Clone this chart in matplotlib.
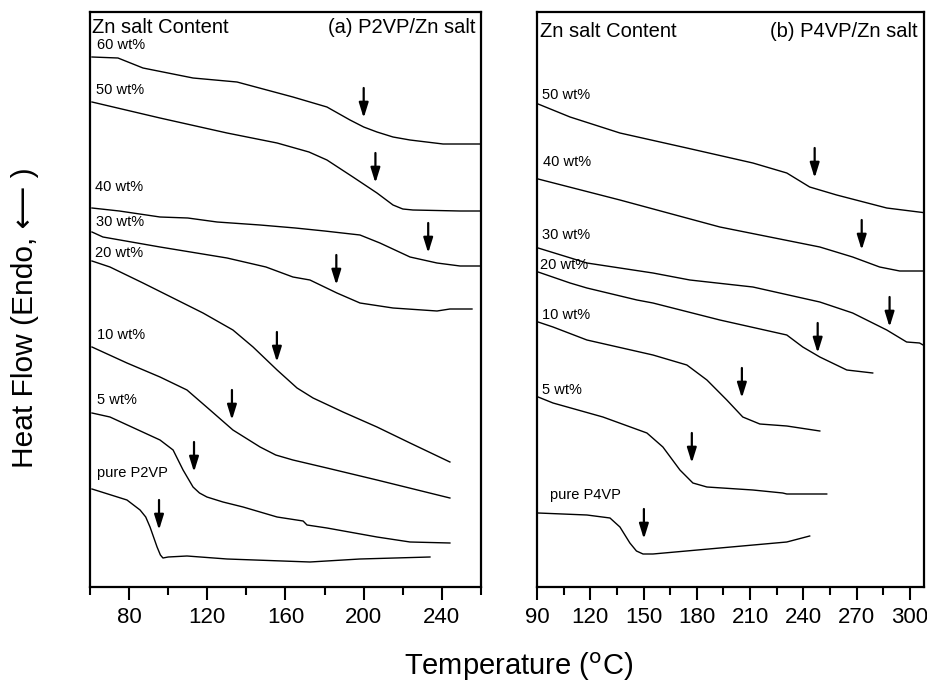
import matplotlib
matplotlib.use("Agg")
import matplotlib.pyplot as plt

plt.rcParams['font.family'] = ['Liberation Sans', 'DejaVu Sans']

# ---- (a) P2VP / Zn salt : temperature (C), heat flow (a.u., stacked) ----
p2_labels = ["60 wt%", "50 wt%", "40 wt%", "30 wt%", "20 wt%", "10 wt%", "5 wt%", "pure P2VP"]
p2_T = [
    [61.0, 74.3, 87.1, 112.7, 135.2, 163.8, 181.2, 193.0, 200.0, 206.8, 215.0, 223.7, 240.6, 260.0],
    [61.0, 95.8, 130.1, 155.7, 172.0, 181.2, 194.5, 206.8, 215.0, 220.0, 225.2, 249.3, 260.0],
    [61.0, 75.0, 95.8, 110.0, 125.0, 147.0, 165.0, 180.0, 198.1, 208.3, 223.7, 237.5, 249.3, 260.0],
    [61.0, 66.6, 95.8, 130.1, 150.0, 163.8, 172.5, 186.3, 198.1, 215.0, 237.5, 244.1, 255.4],
    [61.0, 70.2, 87.1, 104.5, 117.8, 133.1, 143.4, 155.7, 165.9, 174.1, 189.4, 206.8, 223.7, 244.1],
    [61.0, 78.9, 95.8, 109.6, 121.4, 133.1, 147.0, 155.0, 163.8, 181.2, 206.8, 244.1],
    [61.0, 70.2, 95.8, 102.5, 107.6, 112.7, 116.0, 119.8, 128.0, 138.3, 155.7, 169.0, 171.0, 181.2,
     206.8, 223.7, 244.1],
    [61.0, 78.9, 85.6, 88.5, 90.7, 94.3, 96.0, 97.3, 100.0, 109.6, 130.1, 172.5, 198.1, 233.9],
]
p2_H = [
    [53.0, 52.9, 51.9, 50.9, 50.5, 49.0, 48.0, 46.7, 46.0, 45.5, 45.0, 44.7, 44.3, 44.3],
    [48.5, 46.9, 45.4, 44.4, 43.5, 42.7, 41.0, 39.4, 38.2, 37.8, 37.7, 37.6, 37.6],
    [37.9, 37.6, 37.0, 36.9, 36.5, 36.2, 35.9, 35.6, 35.2, 34.4, 33.0, 32.4, 32.1, 32.1],
    [35.5, 35.0, 34.0, 32.9, 32.0, 31.0, 30.7, 29.4, 28.4, 27.9, 27.6, 27.8, 27.8],
    [32.6, 32.0, 30.4, 28.7, 27.4, 25.7, 24.0, 21.7, 19.9, 18.9, 17.5, 16.0, 14.4, 12.5],
    [24.0, 22.4, 21.0, 19.7, 17.7, 15.7, 14.0, 13.2, 12.7, 11.9, 10.7, 8.9],
    [17.4, 17.0, 14.7, 13.7, 11.7, 10.0, 9.4, 9.0, 8.5, 8.0, 7.0, 6.6, 6.2, 5.9, 5.0, 4.5, 4.4],
    [9.8, 8.7, 7.7, 7.0, 6.0, 4.0, 3.2, 2.9, 3.0, 3.1, 2.8, 2.5, 2.8, 3.0],
]
p2_label_T = [63.6, 63.3, 62.5, 63.0, 62.5, 63.6, 63.6, 63.6]
p2_label_H = [54.2, 49.7, 40.0, 36.5, 33.4, 25.2, 18.7, 11.4]
p2_Tg = [200.0, 206.0, 233.0, 186.0, 155.6, 132.6, 113.2, 95.3]
p2_Tg_H = [46.9, 40.4, 33.4, 30.2, 22.5, 16.7, 11.5, 5.7]

# ---- (b) P4VP / Zn salt ----
p4_labels = ["50 wt%", "40 wt%", "30 wt%", "20 wt%", "10 wt%", "5 wt%", "pure P4VP"]
p4_T = [
    [90.6, 108.6, 136.7, 174.4, 211.6, 230.7, 243.6, 258.8, 287.0, 309.5],
    [90.6, 136.7, 193.0, 249.3, 267.8, 283.0, 294.3, 309.5],
    [90.6, 118.1, 155.3, 176.1, 211.6, 249.3, 267.8, 287.0, 298.2, 305.5, 309.5],
    [90.6, 108.6, 118.1, 146.3, 155.3, 193.0, 230.7, 239.7, 249.3, 264.5, 279.1],
    [90.6, 99.0, 118.1, 155.3, 174.4, 185.7, 196.9, 205.9, 215.5, 230.7, 249.3],
    [90.6, 99.0, 127.1, 151.9, 160.9, 170.5, 177.8, 185.7, 211.6, 228.4, 230.7, 253.2],
    [90.6, 118.1, 131.1, 136.7, 142.3, 146.0, 149.7, 155.3, 193.0, 230.7, 243.6],
]
p4_H = [
    [48.3, 47.0, 45.4, 43.9, 42.4, 41.4, 40.0, 39.2, 37.9, 37.4],
    [40.8, 38.7, 36.0, 34.0, 33.0, 32.0, 31.6, 31.6],
    [33.9, 32.4, 31.4, 30.7, 30.0, 28.5, 27.4, 25.7, 24.5, 24.4, 24.0],
    [31.5, 30.4, 29.9, 28.7, 28.4, 26.7, 25.2, 24.0, 23.0, 21.7, 21.4],
    [26.5, 26.0, 24.7, 23.2, 22.2, 20.7, 18.7, 17.0, 16.3, 16.1, 15.6],
    [19.0, 18.4, 17.0, 15.4, 14.0, 11.7, 10.4, 10.0, 9.7, 9.4, 9.3, 9.3],
    [7.4, 7.2, 6.9, 6.0, 4.4, 3.6, 3.3, 3.3, 3.9, 4.5, 5.1],
]
p4_label_T = [92.8, 93.3, 92.8, 91.5, 92.8, 92.8, 97.3]
p4_label_H = [49.2, 42.5, 35.2, 32.2, 27.2, 19.7, 9.2]
p4_Tg = [246.4, 272.9, 288.6, 248.1, 205.4, 177.2, 150.2]
p4_Tg_H = [40.9, 33.7, 26.0, 23.4, 18.9, 12.4, 4.8]

fig = plt.figure(figsize=(9.28, 6.82), dpi=100)
axa = fig.add_axes([0.0970, 0.1393, 0.4213, 0.8431])
axb = fig.add_axes([0.5787, 0.1393, 0.4170, 0.8431])


def style(ax, xlim, major, minor):
    ax.set_xlim(*xlim)
    ax.set_ylim(0, 57.5)
    ax.set_xticks(major)
    ax.set_xticks(minor, minor=True)
    ax.set_yticks([])
    ax.tick_params(axis='x', which='major', direction='out', length=9.5, width=1.5,
                   labelsize=16, pad=5)
    ax.tick_params(axis='x', which='minor', direction='out', length=6, width=1.5)
    for sp in ax.spines.values():
        sp.set_linewidth(1.6)


def arrows(ax, tg, th):
    for t, h in zip(tg, th):
        ax.annotate("", xy=(t, h), xytext=(t, h + 3.0),
                    arrowprops=dict(arrowstyle="-|>,head_length=0.9,head_width=0.28",
                                    color="black", lw=1.6, shrinkA=0, shrinkB=0))


# panel (a)
for T, H in zip(p2_T, p2_H):
    axa.plot(T, H, color="black", lw=1.0)
for t, h, s in zip(p2_label_T, p2_label_H, p2_labels):
    axa.text(t, h, s, fontsize=10.5, va="center", ha="left")
arrows(axa, p2_Tg, p2_Tg_H)
style(axa, (60, 260), [80, 120, 160, 200, 240], [60, 100, 140, 180, 220, 260])
axa.text(0.005, 0.963, "Zn salt Content", transform=axa.transAxes, fontsize=14.5, va="baseline")
axa.text(0.985, 0.963, "(a) P2VP/Zn salt", transform=axa.transAxes, fontsize=14.5,
         va="baseline", ha="right")

# panel (b)
for T, H in zip(p4_T, p4_H):
    axb.plot(T, H, color="black", lw=1.0)
for t, h, s in zip(p4_label_T, p4_label_H, p4_labels):
    axb.text(t, h, s, fontsize=10.5, va="center", ha="left")
arrows(axb, p4_Tg, p4_Tg_H)
style(axb, (90, 308), [90, 120, 150, 180, 210, 240, 270, 300], [105, 135, 165, 195, 225, 255, 285])
axb.text(0.008, 0.957, "Zn salt Content", transform=axb.transAxes, fontsize=14.5, va="baseline")
axb.text(0.984, 0.957, "(b) P4VP/Zn salt", transform=axb.transAxes, fontsize=14.5,
         va="baseline", ha="right")

fig.text(519 / 928, 1 - 675 / 682, "Temperature ($^{\\rm o}$C)", fontsize=21,
         ha="center", va="baseline")
fig.text(25 / 928, 1 - 318 / 682, "Heat Flow (Endo, \u27f5 )", fontsize=21.5,
         rotation=90, ha="center", va="center")

fig.savefig("out.png", dpi=100)
